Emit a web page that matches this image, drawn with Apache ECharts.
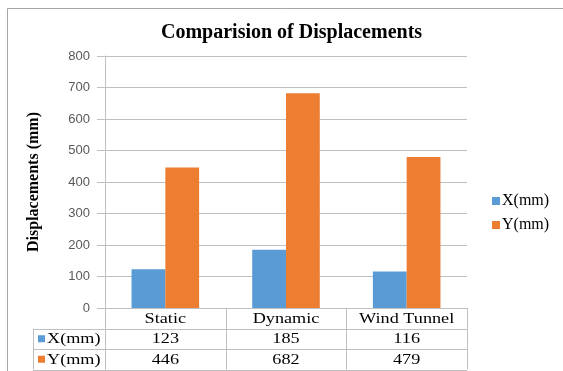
<!DOCTYPE html>
<html>
<head>
<meta charset="utf-8">
<script src="https://cdn.jsdelivr.net/npm/echarts@6/dist/echarts.min.js"></script>
<style>
  html, body { margin: 0; padding: 0; background: #fff; }
  #chart { width: 563px; height: 371px; }
</style>
</head>
<body>
<div id="chart"></div>
<script>
// Comparision of Displacements - bar chart with data table
var categories = ['Static', 'Dynamic', 'Wind Tunnel'];
var seriesNames = ['X(mm)', 'Y(mm)'];
var xValues = [123, 185, 116];
var yValues = [446, 682, 479];
var yTicks = [0, 100, 200, 300, 400, 500, 600, 700, 800];

(function() {
    var blue = '#5b9bd5';
    var orange = '#ed7d31';
    var rule = '#bfbfbf';
    var serif = '"Liberation Serif", "DejaVu Serif", serif';

    var chart = echarts.init(document.getElementById('chart'), null, { renderer: 'canvas' });

    var option = {
        animation: false,
        backgroundColor: '#fff',
        title: {
            text: 'Comparision of Displacements',
            left: 156,
            top: 18,
            textStyle: { fontFamily: serif, fontSize: 20, fontWeight: 'bold', color: '#000' }
        },
        legend: {
            orient: 'vertical',
            left: 487,
            top: 188,
            itemWidth: 8,
            itemHeight: 8,
            itemGap: 8,
            icon: 'rect',
            data: seriesNames,
            textStyle: { fontFamily: serif, fontSize: 16, color: '#000', padding: [0, 0, 0, -3] }
        },
        grid: { left: 105, right: 96, top: 56, bottom: 63 },
        xAxis: {
            type: 'category',
            data: categories,
            axisLine: { show: true, lineStyle: { color: rule } },
            axisTick: { show: false },
            axisLabel: { show: false }
        },
        yAxis: {
            type: 'value',
            min: yTicks[0],
            max: yTicks[yTicks.length - 1],
            interval: 100,
            name: 'Displacements (mm)',
            nameLocation: 'middle',
            nameRotate: 90,
            nameGap: 63,
            nameTextStyle: { fontFamily: serif, fontSize: 16, fontWeight: 'bold', color: '#000' },
            axisLine: { show: true, lineStyle: { color: rule } },
            axisTick: { show: true, length: 8, lineStyle: { color: rule } },
            axisLabel: {
                margin: 15,
                color: '#595959',
                fontFamily: '"Liberation Sans", Arial, sans-serif',
                fontSize: 13
            },
            splitLine: { lineStyle: { color: rule } }
        },
        series: [{
            name: seriesNames[0],
            type: 'bar',
            data: xValues,
            itemStyle: { color: blue },
            barGap: '0%',
            barCategoryGap: '44%'
        }, {
            name: seriesNames[1],
            type: 'bar',
            data: yValues,
            itemStyle: { color: orange }
        }]
    };

    chart.setOption(option);

    // data table under the plot, placed from the axis scales
    var centers = categories.map(function(c) {
        return chart.convertToPixel({ xAxisIndex: 0 }, c);
    });
    var step = centers[1] - centers[0];
    var x0 = centers[0] - step / 2;
    var x1 = centers[centers.length - 1] + step / 2;
    var yTop = chart.convertToPixel({ yAxisIndex: 0 }, 0);
    var rowH = 20.5;
    var keyLeft = 33;
    var lineStyle = { stroke: rule, lineWidth: 1 };
    var stretch = 1.3; // table text is set wide in the source
    var els = [];

    // outer chart frame
    els.push({ type: 'rect', shape: { x: 7.5, y: 8.5, width: 600, height: 400 },
        style: { fill: null, stroke: '#a6a6a6', lineWidth: 1 }, silent: true });

    // horizontal rules
    [1, 2, 3].forEach(function(r) {
        var y = Math.round(yTop + rowH * r) + 0.5;
        els.push({ type: 'line', shape: { x1: keyLeft, y1: y, x2: x1, y2: y }, style: lineStyle });
    });
    // vertical rules
    for (var i = 0; i <= categories.length; i++) {
        var x = Math.round(x0 + step * i) + 0.5;
        els.push({ type: 'line', shape: { x1: x, y1: yTop, x2: x, y2: yTop + rowH * 3 }, style: lineStyle });
    }
    els.push({ type: 'line', shape: { x1: keyLeft + 0.5, y1: yTop + rowH, x2: keyLeft + 0.5, y2: yTop + rowH * 3 }, style: lineStyle });

    var cellFont = { fontFamily: serif, fontSize: 14, fill: '#000', align: 'center', verticalAlign: 'middle' };
    categories.forEach(function(c, k) {
        [c, String(xValues[k]), String(yValues[k])].forEach(function(t, r) {
            els.push({ type: 'text', x: centers[k], y: yTop + rowH * (r + 0.5) + 1, scaleX: stretch,
                style: Object.assign({ text: t }, cellFont) });
        });
    });

    // row keys
    [[seriesNames[0], blue], [seriesNames[1], orange]].forEach(function(s, r) {
        var cy = yTop + rowH * (r + 1.5);
        els.push({ type: 'rect', shape: { x: 38, y: cy - 3.5, width: 7, height: 7 }, style: { fill: s[1] } });
        els.push({ type: 'text', x: 47, y: cy + 1, scaleX: stretch,
            style: { text: s[0], fontFamily: serif, fontSize: 14, fill: '#000', align: 'left', verticalAlign: 'middle' } });
    });

    chart.setOption({ graphic: { elements: els } });

    window.addEventListener('resize', function() {
        chart.resize();
    });
})();
</script>
</body>
</html>
